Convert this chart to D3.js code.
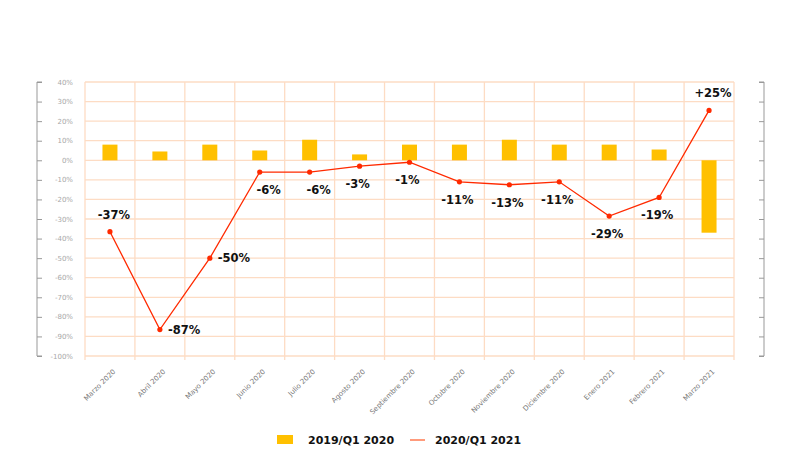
<!DOCTYPE html>
<html>
<head>
<meta charset="utf-8">
<script src="https://cdn.jsdelivr.net/npm/d3@7"></script>
<style>
  body{margin:0;background:#fff}
  .grid line{stroke:#fddcc4;stroke-width:1.3}
  .ylab{font-family:"DejaVu Sans",sans-serif;font-size:7px;fill:#a8a8a8}
  .xlab{font-family:"DejaVu Sans",sans-serif;font-size:7px;fill:#777}
  .val{font-family:"DejaVu Sans",sans-serif;font-weight:bold;font-size:11.5px;fill:#111}
  .leg{font-family:"DejaVu Sans",sans-serif;font-weight:bold;font-size:11px;fill:#111}
</style>
</head>
<body>
<div id="chart"></div>
<script>
'use strict'
const months = ["Marzo 2020","Abril 2020","Mayo 2020","Junio 2020","Julio 2020","Agosto 2020","Septiembre 2020","Octubre 2020","Noviembre 2020","Diciembre 2020","Enero 2021","Febrero 2021","Marzo 2021"]
const bars2019 = [8, 4.5, 8, 5, 10.5, 3, 8, 8, 10.5, 8, 8, 5.5, -37]
const line2020 = [-36.5, -86.5, -50, -6, -6, -3, -1, -11, -12.5, -11, -28.5, -19, 25.5]
const lineLabels = ["-37%","-87%","-50%","-6%","-6%","-3%","-1%","-11%","-13%","-11%","-29%","-19%","+25%"]
const labelSide = ["above","right","right","belowright","belowright","below","below","below","below","below","below","below","above"]
const yTicks = d3.range(-100, 41, 10)
const legendNames = ["2019/Q1 2020","2020/Q1 2021"]

const width = 800, height = 468
const plot = {left:85, right:734, top:82, bottom:356}
const barColor = "#ffc000", lineColor = "#ff2a00"

const svg = d3.select("#chart").append("svg")
  .attr("width", width).attr("height", height)

const x = d3.scaleBand().domain(months).range([plot.left, plot.right])
const y = d3.scaleLinear().domain([-100, 40]).range([plot.bottom, plot.top])
const cx = d => x(d) + x.bandwidth()/2

// grid
const grid = svg.append("g").attr("class","grid")
grid.selectAll(".h").data(yTicks).enter().append("line")
  .attr("x1", plot.left).attr("x2", plot.right)
  .attr("y1", d => y(d)).attr("y2", d => y(d))
const vx = months.map(m => x(m)).concat([plot.right])
grid.selectAll(".v").data(vx).enter().append("line")
  .attr("x1", d => d).attr("x2", d => d)
  .attr("y1", plot.top).attr("y2", plot.bottom + 4)

// side axes
const fmt = d => d + "%"
const leftAxis = svg.append("g").attr("transform", "translate(37,0)")
  .call(d3.axisRight(y).tickValues(yTicks).tickSize(5).tickFormat(""))
leftAxis.select(".domain").attr("stroke","#999").attr("d", `M5,${plot.top}H0V${plot.bottom}H5`)
leftAxis.selectAll(".tick line").attr("stroke","#999")
const rightAxis = svg.append("g").attr("transform", "translate(764,0)")
  .call(d3.axisLeft(y).tickValues(yTicks).tickSize(5).tickFormat(""))
rightAxis.select(".domain").attr("stroke","#999").attr("d", `M-5,${plot.top}H0V${plot.bottom}H-5`)
rightAxis.selectAll(".tick line").attr("stroke","#999")

svg.selectAll(".ylab").data(yTicks).enter().append("text")
  .attr("class","ylab")
  .attr("x", 73).attr("y", d => y(d) + 2.5)
  .attr("text-anchor","end")
  .text(fmt)

// x labels
svg.selectAll(".xlab").data(months).enter().append("text")
  .attr("class","xlab")
  .attr("text-anchor","end")
  .attr("transform", d => `translate(${cx(d) + 6},${plot.bottom + 16}) rotate(-45)`)
  .text(d => d)

// bars
const bw = 15
svg.selectAll(".bar").data(bars2019).enter().append("rect")
  .attr("fill", barColor)
  .attr("x", (d, i) => cx(months[i]) - bw/2)
  .attr("width", bw)
  .attr("y", d => y(Math.max(0, d)))
  .attr("height", d => Math.abs(y(d) - y(0)))

// line
const line = d3.line().x((d, i) => cx(months[i])).y(d => y(d))
svg.append("path").datum(line2020)
  .attr("fill","none").attr("stroke", lineColor).attr("stroke-width", 1.3)
  .attr("d", line)
svg.selectAll(".dot").data(line2020).enter().append("circle")
  .attr("fill", lineColor)
  .attr("cx", (d, i) => cx(months[i])).attr("cy", d => y(d)).attr("r", 2.6)

// value labels
const dxFor = s => s === "right" ? 8 : s === "belowright" ? 9 : s === "below" ? -2 : 4
const dyFor = s => s === "above" ? -13 : s === "right" ? 4 : 22
svg.selectAll(".val").data(line2020).enter().append("text")
  .attr("class","val")
  .attr("text-anchor", (d, i) => labelSide[i] === "right" ? "start" : "middle")
  .attr("x", (d, i) => cx(months[i]) + dxFor(labelSide[i]))
  .attr("y", (d, i) => y(d) + dyFor(labelSide[i]))
  .text((d, i) => lineLabels[i])

// legend
const leg = svg.append("g")
leg.append("rect").attr("x", 277).attr("y", 435).attr("width", 16).attr("height", 9).attr("fill", barColor)
leg.append("text").attr("class","leg").attr("x", 308).attr("y", 444).text(legendNames[0])
leg.append("line").attr("x1", 410).attr("x2", 425).attr("y1", 440).attr("y2", 440)
  .attr("stroke", "#ff7a50").attr("stroke-width", 1.5)
leg.append("text").attr("class","leg").attr("x", 435).attr("y", 444).text(legendNames[1])
</script>
</body>
</html>
